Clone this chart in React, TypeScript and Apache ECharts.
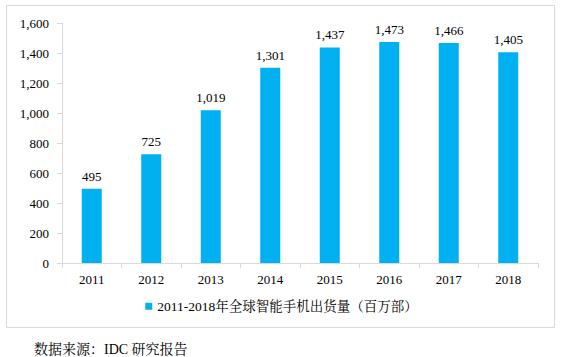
import React, { useEffect, useRef } from "react";
import * as echarts from "echarts";

const categories = ["2011", "2012", "2013", "2014", "2015", "2016", "2017", "2018"];
const shipments = [495, 725, 1019, 1301, 1437, 1473, 1466, 1405];
const seriesName = "2011-2018年全球智能手机出货量（百万部）";
const sourceText = "数据来源：IDC 研究报告";

const fmt = (v: number) => v.toLocaleString("en-US");

export default function App() {
  const ref = useRef<HTMLDivElement>(null);
  useEffect(() => {
    document.body.style.margin = "0";
    const chart = echarts.init(ref.current!, null, { renderer: "svg" });
    const font = "'Liberation Serif', 'Times New Roman', 'Noto Serif CJK SC', serif";
    chart.setOption({
      animation: false,
      backgroundColor: "#fff",
      textStyle: { fontFamily: font },
      grid: { left: 62, right: 25, top: 23, bottom: 94 },
      legend: {
        data: [seriesName],
        bottom: 39,
        left: "center",
        itemWidth: 7,
        itemHeight: 7,
        itemGap: 4,
        icon: "rect",
        textStyle: { fontFamily: font, fontSize: 13.5, color: "#000" },
      },
      xAxis: {
        type: "category",
        data: categories,
        axisLine: { lineStyle: { color: "#d9d9d9" } },
        axisTick: { show: true, lineStyle: { color: "#d9d9d9" } },
        axisLabel: { color: "#000", fontSize: 13, fontFamily: font, margin: 10 },
      },
      yAxis: {
        type: "value",
        min: 0,
        max: 1600,
        interval: 200,
        axisLine: { show: true, lineStyle: { color: "#d9d9d9" } },
        axisTick: { show: true, lineStyle: { color: "#d9d9d9" } },
        splitLine: { show: false },
        axisLabel: { color: "#000", fontSize: 13, fontFamily: font, margin: 13, formatter: (v: number) => fmt(v) },
      },
      series: [
        {
          name: seriesName,
          type: "bar",
          data: shipments,
          barWidth: 20,
          itemStyle: { color: "#00B0F0" },
          label: {
            show: true,
            position: "top",
            distance: 6,
            color: "#000",
            fontSize: 13,
            fontFamily: font,
            formatter: (p: any) => fmt(p.value),
          },
        },
      ],
      graphic: [
        {
          type: "rect",
          shape: { x: 6.5, y: 5.5, width: 548, height: 322 },
          style: { fill: "none", stroke: "#d9d9d9", lineWidth: 1 },
          silent: true,
          z: -1,
        },
        {
          type: "text",
          x: 34,
          y: 349,
          style: { text: sourceText, fontSize: 14, fontFamily: font, fill: "#000", textVerticalAlign: "middle" },
        },
      ],
    });
    return () => chart.dispose();
  }, []);
  return <div ref={ref} style={{ width: 563, height: 357 }} />;
}
